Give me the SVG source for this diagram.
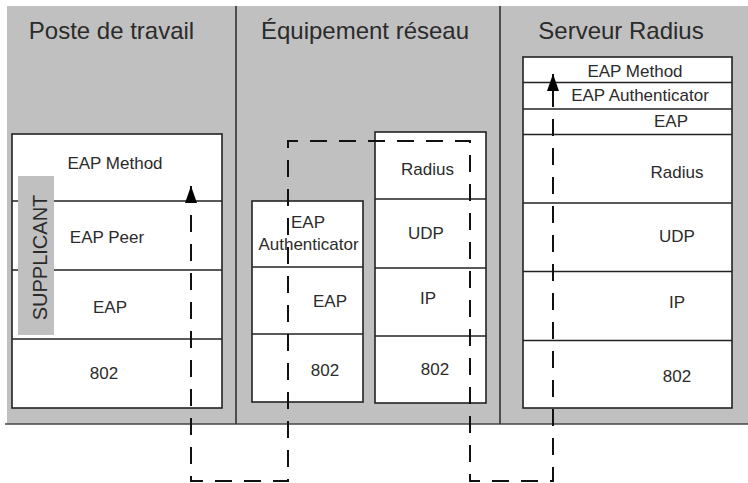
<svg xmlns="http://www.w3.org/2000/svg" width="748" height="483" viewBox="0 0 748 483">
<style>
text{font-family:"Liberation Sans",Arial,sans-serif;fill:#2b2b2b;text-anchor:middle}
.t{font-size:24px}
.l{font-size:17px}
.box{fill:#fff;stroke:#222;stroke-width:1.6}
.div{stroke:#222;stroke-width:1.6}
.col{stroke:#333;stroke-width:1.6}
.dash{fill:none;stroke:#111;stroke-width:2;stroke-dasharray:17 12}
</style>
<defs>
<marker id="ah" markerUnits="userSpaceOnUse" markerWidth="18" markerHeight="12" refX="17" refY="6" orient="auto-start-reverse" viewBox="0 0 18 12">
<path d="M0,0 L17,6 L0,12 z" fill="#000"/>
</marker>
</defs>
<rect x="7" y="6" width="741" height="418" fill="#c0c0c0"/>
<line x1="5" y1="424" x2="748" y2="424" stroke="#444" stroke-width="1.6"/>
<line class="col" x1="236" y1="6" x2="236" y2="424"/>
<line class="col" x1="500" y1="6" x2="500" y2="424"/>

<g id="poste">
<text class="t" x="111.5" y="39">Poste de travail</text>
<rect class="box" x="12" y="134" width="210" height="274"/>
<line class="div" x1="12" y1="201" x2="222" y2="201"/>
<line class="div" x1="12" y1="270" x2="222" y2="270"/>
<line class="div" x1="12" y1="339" x2="222" y2="339"/>
<rect x="18" y="176" width="36" height="159" fill="#c0c0c0"/>
<text x="0" y="0" style="font-size:20px" transform="translate(47,257.5) rotate(-90)">SUPPLICANT</text>
<text class="l" x="115" y="169">EAP Method</text>
<text class="l" x="107" y="243">EAP Peer</text>
<text class="l" x="110" y="313">EAP</text>
<text class="l" x="104" y="379">802</text>
</g>

<g id="equipement">
<text class="t" x="365" y="39">Équipement réseau</text>
<rect class="box" x="252" y="201" width="111" height="201"/>
<line class="div" x1="252" y1="267" x2="363" y2="267"/>
<line class="div" x1="252" y1="334" x2="363" y2="334"/>
<text class="l" x="308" y="228">EAP</text>
<text class="l" x="308.5" y="250">Authenticator</text>
<text class="l" x="330" y="307">EAP</text>
<text class="l" x="325" y="376">802</text>
<rect class="box" x="375" y="132" width="111" height="271"/>
<line class="div" x1="375" y1="199" x2="486" y2="199"/>
<line class="div" x1="375" y1="268" x2="486" y2="268"/>
<line class="div" x1="375" y1="336" x2="486" y2="336"/>
<text class="l" x="427.5" y="175">Radius</text>
<text class="l" x="426" y="239">UDP</text>
<text class="l" x="428" y="304">IP</text>
<text class="l" x="435" y="375">802</text>
</g>

<g id="serveur">
<text class="t" x="621" y="39">Serveur Radius</text>
<rect class="box" x="523" y="57" width="209" height="351"/>
<line class="div" x1="523" y1="82.5" x2="732" y2="82.5"/>
<line class="div" x1="523" y1="109" x2="732" y2="109"/>
<line class="div" x1="523" y1="134.5" x2="732" y2="134.5"/>
<line class="div" x1="523" y1="203" x2="732" y2="203"/>
<line class="div" x1="523" y1="271.5" x2="732" y2="271.5"/>
<line class="div" x1="523" y1="340.5" x2="732" y2="340.5"/>
<text class="l" x="635" y="77">EAP Method</text>
<text class="l" x="640" y="101">EAP Authenticator</text>
<text class="l" x="671" y="127">EAP</text>
<text class="l" x="677" y="178">Radius</text>
<text class="l" x="677" y="242">UDP</text>
<text class="l" x="677" y="308">IP</text>
<text class="l" x="677" y="382">802</text>
</g>

<g id="connectors">
<path class="dash" d="M191,186 L191,481 L288,481 L288,141 L470,141 L470,481 L553,481 L553,74" marker-start="url(#ah)" marker-end="url(#ah)"/>
</g>
</svg>
